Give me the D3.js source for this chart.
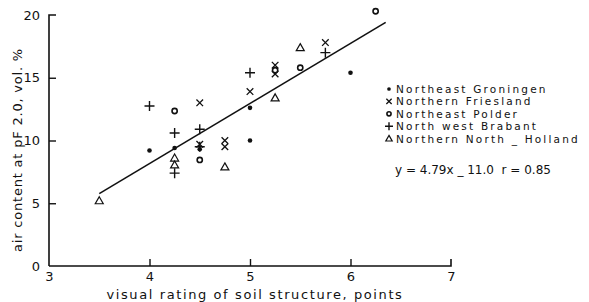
<!DOCTYPE html>
<html><head><meta charset="utf-8">
<script src="https://cdn.jsdelivr.net/npm/d3@7"></script>
<style>body{margin:0;background:#fff}svg{display:block}text{font-family:"DejaVu Sans",sans-serif;fill:#111}</style>
</head><body>
<script>
const xTicks = [3, 4, 5, 6, 7];
const yTicks = [0, 5, 10, 15, 20];
const groningen = [[4.0, 9.2], [4.25, 9.4], [4.5, 9.3], [5.0, 12.6], [5.0, 10.0], [6.0, 15.4]];
const friesland = [[4.5, 13.0], [4.5, 9.7], [4.75, 10.0], [4.75, 9.5], [5.0, 13.9], [5.25, 16.0], [5.25, 15.3], [5.75, 17.8]];
const polder = [[4.25, 12.35], [4.5, 8.45], [5.25, 15.6], [5.5, 15.8], [6.25, 20.3]];
const brabant = [[4.0, 12.75], [4.25, 10.6], [4.5, 10.9], [4.5, 9.5], [4.25, 7.4], [5.0, 15.4], [5.75, 17.0]];
const holland = [[3.5, 5.2], [4.25, 8.6], [4.25, 8.05], [4.75, 7.9], [5.25, 13.4], [5.5, 17.4]];
const legendLabels = ["Northeast Groningen", "Northern Friesland", "Northeast Polder", "North west Brabant", "Northern North _ Holland"];
const fitSlope = 4.79, fitIntercept = -11.0, fitRange = [3.5, 6.35];
const equationText = "y = 4.79x _ 11.0  r = 0.85";

const W = 589, H = 302;
const svg = d3.select("body").append("svg").attr("width", W).attr("height", H);
const x = d3.scaleLinear().domain([3, 7]).range([49, 451]);
const y = d3.scaleLinear().domain([0, 20]).range([266, 15]);

// axes
const gx = svg.append("g").attr("transform", "translate(0,266)")
  .call(d3.axisBottom(x).tickValues(xTicks).tickSize(-7).tickPadding(6).tickFormat(d3.format("d")));
const gy = svg.append("g").attr("transform", "translate(49,0)")
  .call(d3.axisLeft(y).tickValues(yTicks).tickSize(-7).tickPadding(9).tickFormat(d3.format("d")));
[gx, gy].forEach(g => {
  g.select(".domain").attr("stroke", "#111").attr("stroke-width", 1.6);
  g.selectAll(".tick line").attr("stroke", "#111").attr("stroke-width", 1.4);
  g.selectAll(".tick text").style("font-size", "13px").attr("fill", "#111");
});
gx.select(".domain").attr("d", `M${x(3)},0H${x(7)}V-7`);
gx.selectAll(".tick").filter(d => d === 3 || d === 7).select("line").remove();
gy.select(".domain").attr("d", `M0,${y(0)}V${y(20)}H7`);
gy.selectAll(".tick").filter(d => d === 0 || d === 20).select("line").remove();

// axis titles
svg.append("text").attr("x", 255).attr("y", 299).attr("text-anchor", "middle")
  .style("font-size", "13px").style("letter-spacing", "1.6px").text("visual rating of soil structure, points");
svg.append("text").attr("transform", "translate(22,150) rotate(-90)").attr("text-anchor", "middle")
  .style("font-size", "13px").style("letter-spacing", "0.8px").text("air content at pF 2.0, vol. %");

// regression line
svg.append("line").attr("x1", x(fitRange[0])).attr("y1", y(fitSlope * fitRange[0] + fitIntercept))
  .attr("x2", x(fitRange[1])).attr("y2", y(fitSlope * fitRange[1] + fitIntercept))
  .attr("stroke", "#111").attr("stroke-width", 1.6);

// marker drawers
function drawDot(g, cx, cy, k = 1) { g.append("circle").attr("cx", cx).attr("cy", cy).attr("r", 2.3 * k).attr("fill", "#111"); }
function drawCross(g, cx, cy, k = 1) { const s = 3.3 * k; g.append("path").attr("d", `M${cx-s},${cy-s}L${cx+s},${cy+s}M${cx-s},${cy+s}L${cx+s},${cy-s}`).attr("stroke", "#111").attr("stroke-width", 1.3).attr("fill", "none"); }
function drawCircle(g, cx, cy, k = 1) { g.append("circle").attr("cx", cx).attr("cy", cy).attr("r", 2.6 * k).attr("fill", "#fff").attr("stroke", "#111").attr("stroke-width", 1.6); }
function drawPlus(g, cx, cy, k = 1) { const s = 5 * k; g.append("path").attr("d", `M${cx-s},${cy}L${cx+s},${cy}M${cx},${cy-s}L${cx},${cy+s}`).attr("stroke", "#111").attr("stroke-width", 1.4).attr("fill", "none"); }
function drawTri(g, cx, cy, k = 1) { const s = 4 * k; g.append("path").attr("d", `M${cx},${cy-s}L${cx+s},${cy+s*0.75}L${cx-s},${cy+s*0.75}Z`).attr("stroke", "#111").attr("stroke-width", 1.2).attr("fill", "#fff"); }

const pts = svg.append("g");
const series = [[groningen, drawDot], [friesland, drawCross], [polder, drawCircle], [brabant, drawPlus], [holland, drawTri]];
series.forEach(([data, fn]) => data.forEach(d => fn(pts, x(d[0]), y(d[1]))));

// legend
const lg = svg.append("g");
legendLabels.forEach((lab, i) => {
  const ly = 89 + i * 12.4;
  series[i][1](lg, 389, ly, 0.8);
  lg.append("text").attr("x", 396).attr("y", ly + 4).style("font-size", "10.5px").style("letter-spacing", "2.2px").text(lab);
});
svg.append("text").attr("x", 395).attr("y", 174).style("font-size", "12px").style("white-space", "pre").text(equationText);
</script>
</body></html>
